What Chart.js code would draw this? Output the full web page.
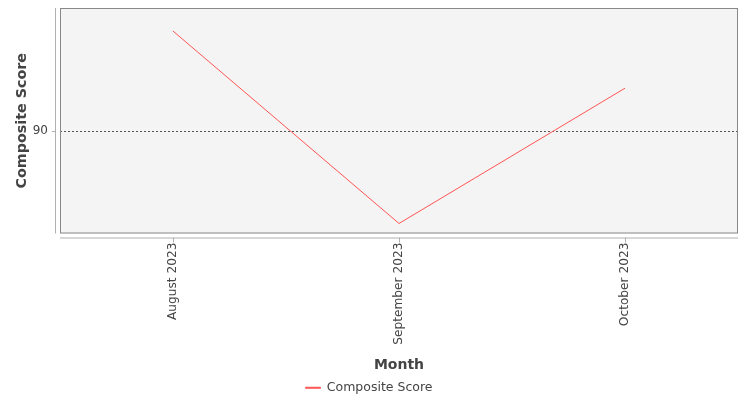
<!DOCTYPE html>
<html>
<head>
<meta charset="utf-8">
<script src="https://cdn.jsdelivr.net/npm/chart.js@4"></script>
<style>
html,body{margin:0;padding:0;background:#fff;}
#wrap{width:750px;height:400px;position:relative;}
</style>
</head>
<body>
<div id="wrap"><canvas id="c" width="750" height="400"></canvas></div>
<script>
const categories = ["August 2023", "September 2023", "October 2023"];
const compositeScore = [95.0, 85.4, 92.15];
const yTickValues = [90];
const seriesName = "Composite Score";
const xTitle = "Month";
const yTitle = "Composite Score";

const FONT = "'DejaVu Sans', sans-serif";

const framePlugin = {
  id: 'frame',
  beforeDraw(chart) {
    const {ctx, chartArea: a} = chart;
    ctx.save();
    ctx.fillStyle = '#f4f4f4';
    ctx.fillRect(a.left, a.top, a.right - a.left, a.bottom - a.top);
    ctx.restore();
  },
  afterDatasetsDraw(chart) {
    const {ctx, chartArea: a, scales} = chart;
    ctx.save();
    ctx.strokeStyle = '#888888';
    ctx.lineWidth = 1;
    ctx.strokeRect(a.left + 0.5, a.top + 0.5, a.right - a.left - 1, a.bottom - a.top - 1);
    ctx.strokeStyle = '#b0b0b0';
    ctx.beginPath();
    ctx.moveTo(a.left - 4.5, a.top);
    ctx.lineTo(a.left - 4.5, a.bottom);
    ctx.moveTo(a.left, a.bottom + 4.5);
    ctx.lineTo(a.right, a.bottom + 4.5);
    scales.y.ticks.forEach(t => {
      const y = Math.round(scales.y.getPixelForValue(t.value)) + 0.5;
      ctx.moveTo(a.left - 8, y);
      ctx.lineTo(a.left - 4, y);
    });
    scales.x.ticks.forEach((t, i) => {
      const x = Math.round(scales.x.getPixelForTick(i)) + 0.5;
      ctx.moveTo(x, a.bottom + 4);
      ctx.lineTo(x, a.bottom + 9);
    });
    ctx.stroke();
    ctx.restore();
  }
};

new Chart(document.getElementById('c'), {
  type: 'line',
  data: {
    labels: categories,
    datasets: [{
      label: seriesName,
      data: compositeScore,
      borderColor: '#ff5555',
      backgroundColor: '#ff5555',
      borderWidth: 1,
      pointRadius: 0,
      pointHoverRadius: 0,
      tension: 0,
      fill: false
    }]
  },
  options: {
    responsive: false,
    animation: false,
    events: [],
    layout: { padding: { top: 8, right: 12, left: 0, bottom: -4 } },
    plugins: {
      legend: {
        position: 'bottom',
        labels: {
          color: '#444444',
          font: { family: FONT, size: 12.5 },
          boxWidth: 15,
          boxHeight: 1,
          padding: 1,
          generateLabels(chart) {
            return chart.data.datasets.map((d, i) => ({
              text: d.label,
              fillStyle: d.borderColor,
              strokeStyle: d.borderColor,
              lineWidth: 1,
              hidden: false,
              datasetIndex: i,
              fontColor: '#444444'
            }));
          }
        }
      },
      tooltip: { enabled: false }
    },
    scales: {
      x: {
        type: 'category',
        offset: true,
        grid: { display: false, drawTicks: false },
        border: { display: false },
        ticks: {
          color: '#444444',
          font: { family: FONT, size: 12.2 },
          minRotation: 90,
          maxRotation: 90,
          padding: 9,
          autoSkip: false
        },
        title: {
          display: true,
          text: xTitle,
          color: '#444444',
          font: { family: FONT, size: 14, weight: 'bold' },
          padding: { top: 10, bottom: 7 }
        },
        afterFit(scale) { scale.height = 147; scale.paddingLeft = 0; scale.paddingRight = 0; }
      },
      y: {
        type: 'linear',
        min: 84.9,
        max: 96.15,
        grid: {
          drawTicks: false,
          color: '#555555',
          lineWidth: 1
        },
        border: { display: false, dash: [2, 2] },
        afterBuildTicks(scale) { scale.ticks = yTickValues.map(v => ({ value: v })); },
        ticks: {
          color: '#444444',
          font: { family: FONT, size: 12 },
          padding: 12
        },
        title: {
          display: true,
          text: yTitle,
          color: '#444444',
          font: { family: FONT, size: 14.3, weight: 'bold' },
          padding: { top: 14, bottom: 6 }
        },
        afterFit(scale) { scale.width = 60; scale.paddingTop = 0; scale.paddingBottom = 0; }
      }
    }
  },
  plugins: [framePlugin]
});
</script>
</body>
</html>
